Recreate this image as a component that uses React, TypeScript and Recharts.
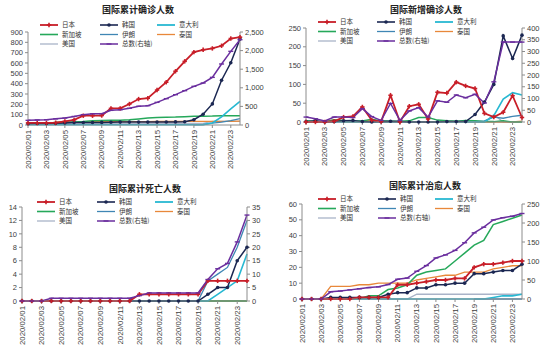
import React from "react";
import { LineChart, Line, XAxis, YAxis } from "recharts";

const dates = [
  "2020/02/01", "2020/02/02", "2020/02/03", "2020/02/04", "2020/02/05", "2020/02/06",
  "2020/02/07", "2020/02/08", "2020/02/09", "2020/02/10", "2020/02/11", "2020/02/12",
  "2020/02/13", "2020/02/14", "2020/02/15", "2020/02/16", "2020/02/17", "2020/02/18",
  "2020/02/19", "2020/02/20", "2020/02/21", "2020/02/22", "2020/02/23", "2020/02/24",
];

const N = null;

// 国际累计确诊人数
const jpConfirmed = [20, 20, 20, 22, 35, 50, 90, 90, 92, 161, 161, 203, 251, 259, 338, 414, 520, 616, 705, 728, 741, 767, 837, 850];
const krConfirmed = [12, 15, 15, 16, 19, 23, 24, 24, 25, 27, 28, 28, 28, 28, 28, 29, 30, 31, 51, 104, 204, 433, 602, 833];
const itConfirmed = [2, 2, 2, 2, 2, 2, 3, 3, 3, 3, 3, 3, 3, 3, 3, 3, 3, 3, 3, 3, 20, 79, 157, 229];
const sgConfirmed = [16, 18, 18, 24, 28, 30, 33, 40, 43, 45, 47, 50, 58, 67, 72, 75, 77, 81, 84, 85, 86, 89, 89, 89];
const irConfirmed = [N, N, N, N, N, N, N, N, N, N, N, N, N, N, N, N, N, N, 2, 5, 18, 28, 43, 61];
const thConfirmed = [19, 19, 19, 25, 25, 25, 25, 32, 32, 32, 33, 33, 33, 33, 34, 34, 35, 35, 35, 35, 35, 35, 35, 37];
const usConfirmed = [8, 8, 11, 11, 12, 12, 12, 12, 12, 12, 13, 13, 14, 15, 15, 15, 15, 15, 15, 15, 35, 35, 35, 35];
const totalConfirmed = [125, 135, 143, 165, 188, 230, 278, 300, 305, 394, 412, 448, 502, 520, 609, 708, 815, 923, 1039, 1129, 1281, 1640, 1980, 2294];

// 国际新增确诊人数
const jpNew = [0, 0, 0, 2, 13, 15, 40, 5, 1, 71, 0, 42, 47, 8, 79, 77, 106, 96, 89, 23, 13, 26, 70, 12];
const krNew = [1, 3, 0, 1, 3, 4, 1, 0, 1, 2, 1, 0, 0, 0, 0, 1, 1, 1, 20, 53, 100, 229, 169, 231];
const itNew = [0, 0, 0, 0, 0, 0, 1, 0, 0, 0, 0, 0, 0, 0, 0, 0, 0, 0, 0, 0, 17, 61, 78, 72];
const sgNew = [3, 2, 0, 6, 4, 2, 3, 7, 3, 2, 2, 3, 12, 12, 5, 3, 2, 4, 3, 1, 1, 3, 0, 0];
const irNew = [N, N, N, N, N, N, N, N, N, N, N, N, N, N, N, N, N, N, 2, 3, 13, 10, 15, 18];
const thNew = [0, 0, 0, 6, 0, 0, 0, 7, 0, 0, 1, 0, 0, 0, 1, 0, 1, 0, 0, 0, 0, 0, 0, 2];
const usNew = [0, 0, 3, 0, 1, 0, 0, 0, 0, 0, 1, 0, 1, 1, 0, 0, 0, 0, 0, 0, 20, 0, 0, 0];
const totalNew = [21, 14, 4, 21, 21, 19, 57, 23, 7, 79, 7, 47, 61, 21, 90, 84, 115, 103, 118, 81, 171, 340, 340, 340];

// 国际累计死亡人数
const jpDeaths = [0, 0, 0, 0, 0, 0, 0, 0, 0, 0, 0, 0, 1, 1, 1, 1, 1, 1, 1, 3, 3, 3, 3, 3];
const krDeaths = [0, 0, 0, 0, 0, 0, 0, 0, 0, 0, 0, 0, 0, 0, 0, 0, 0, 0, 0, 1, 2, 2, 6, 8];
const itDeaths = [0, 0, 0, 0, 0, 0, 0, 0, 0, 0, 0, 0, 0, 0, 0, 0, 0, 0, 0, 0, 1, 2, 3, 7];
const sgDeaths = [0, 0, 0, 0, 0, 0, 0, 0, 0, 0, 0, 0, 0, 0, 0, 0, 0, 0, 0, 0, 0, 0, 0, 0];
const irDeaths = [N, N, N, N, N, N, N, N, N, N, N, N, N, N, N, N, N, N, 0, 3, 4, 5, 8, 12];
const thDeaths = [0, 0, 0, 0, 0, 0, 0, 0, 0, 0, 0, 0, 0, 0, 0, 0, 0, 0, 0, 0, 0, 0, 0, 0];
const usDeaths = [0, 0, 0, 0, 0, 0, 0, 0, 0, 0, 0, 0, 0, 0, 0, 0, 0, 0, 0, 0, 0, 0, 0, 0];
const totalDeaths = [0, 0, 0, 1, 1, 1, 1, 1, 1, 1, 1, 1, 2, 3, 3, 3, 3, 3, 3, 8, 12, 14, 22, 32];

// 国际累计治愈人数
const jpCured = [0, 0, 0, 0, 0, 0, 1, 1, 1, 1, 9, 9, 10, 11, 12, 12, 13, 13, 20, 22, 22, 23, 24, 24];
const krCured = [0, 0, 0, 1, 1, 1, 1, 1, 1, 3, 4, 4, 7, 7, 9, 9, 10, 10, 16, 16, 17, 18, 18, 22];
const itCured = [0, 0, 0, 0, 0, 0, 0, 0, 0, 0, 0, 0, 0, 0, 0, 0, 0, 0, 0, 0, 1, 2, 2, 3];
const sgCured = [0, 0, 0, 0, 0, 0, 0, 2, 2, 6, 7, 9, 15, 17, 18, 19, 24, 29, 34, 37, 47, 49, 51, 53];
const irCured = [N, N, N, N, N, N, N, N, N, N, N, N, N, N, N, N, N, N, 0, 0, 0, 0, 0, 0];
const thCured = [0, 0, 0, 8, 8, 8, 9, 9, 10, 10, 10, 10, 12, 13, 14, 15, 15, 17, 17, 17, 19, 20, 21, 21];
const usCured = [0, 0, 0, 0, 0, 0, 0, 0, 0, 0, 0, 0, 3, 3, 3, 3, 3, 3, 3, 3, 3, 3, 3, 3];
const totalCured = [0, 0, 0, 19, 21, 24, 27, 30, 32, 38, 52, 55, 73, 88, 108, 116, 128, 148, 174, 189, 208, 214, 218, 225];

const COLORS = {
  jp: "#C81E28",
  kr: "#1B2752",
  it: "#27B8D2",
  sg: "#25A85A",
  ir: "#3F86B4",
  th: "#E8883A",
  us: "#A9B3C8",
  total: "#6A2E9E",
};

const FONT = "'Liberation Sans', Arial, sans-serif";
const CJK = "'Noto Sans CJK SC', sans-serif";

type Arr = (number | null)[];

function buildRows(s: Record<string, Arr>) {
  return dates.map((date, i) => {
    const row: Record<string, string | number | null> = { date };
    Object.keys(s).forEach((k) => {
      row[k] = s[k][i];
    });
    return row;
  });
}

function PlusDot(props: any) {
  const { cx, cy, index } = props;
  if (cx == null || cy == null || props.value == null) return <g key={`p${index}`} />;
  return (
    <g key={`p${index}`}>
      <line x1={cx - 2.2} y1={cy} x2={cx + 2.2} y2={cy} stroke={COLORS.jp} strokeWidth={1.6} />
      <line x1={cx} y1={cy - 2.2} x2={cx} y2={cy + 2.2} stroke={COLORS.jp} strokeWidth={1.6} />
    </g>
  );
}

function CircleDot(props: any) {
  const { cx, cy, index } = props;
  if (cx == null || cy == null || props.value == null) return <g key={`c${index}`} />;
  return <circle key={`c${index}`} cx={cx} cy={cy} r={1.8} fill={COLORS.kr} />;
}

function DashDot(props: any) {
  const { cx, cy, index } = props;
  if (cx == null || cy == null || props.value == null) return <g key={`d${index}`} />;
  return (
    <line key={`d${index}`} x1={cx - 2.5} y1={cy} x2={cx + 2.5} y2={cy} stroke={COLORS.total} strokeWidth={1.4} />
  );
}

function DateTick(props: any) {
  const { x, y, payload } = props;
  return (
    <text
      x={x}
      y={y}
      dy={2.7}
      transform={`rotate(-90 ${x} ${y})`}
      textAnchor="end"
      fontSize={7.8}
      fontFamily={FONT}
      fill="#404040"
    >
      {payload.value}
    </text>
  );
}

const legendItems: Array<{ label: string; key: keyof typeof COLORS; marker?: string; width: number }> = [
  { label: "日本", key: "jp", marker: "plus", width: 1.8 },
  { label: "韩国", key: "kr", marker: "circle", width: 1.6 },
  { label: "意大利", key: "it", width: 1.8 },
  { label: "新加坡", key: "sg", width: 1.6 },
  { label: "伊朗", key: "ir", width: 1.3 },
  { label: "泰国", key: "th", width: 1.3 },
  { label: "美国", key: "us", width: 1.3 },
  { label: "总数(右轴)", key: "total", marker: "dash", width: 1.5 },
];

function Legend({ cols, top }: { cols: number[]; top: number }) {
  const rows = [top, top + 9.5, top + 19];
  return (
    <svg width={275} height={60} style={{ position: "absolute", left: 0, top: 0, overflow: "visible" }}>
      {legendItems.map((it, i) => {
        const c = cols[i % 3];
        const r = rows[Math.floor(i / 3)];
        const col = COLORS[it.key];
        return (
          <g key={it.label}>
            <line x1={c} y1={r} x2={c + 18} y2={r} stroke={col} strokeWidth={it.width} />
            {it.marker === "plus" && (
              <g>
                <line x1={c + 6.8} y1={r} x2={c + 11.2} y2={r} stroke={col} strokeWidth={1.6} />
                <line x1={c + 9} y1={r - 2.2} x2={c + 9} y2={r + 2.2} stroke={col} strokeWidth={1.6} />
              </g>
            )}
            {it.marker === "circle" && <circle cx={c + 9} cy={r} r={1.8} fill={col} />}
            {it.marker === "dash" && (
              <line x1={c + 6.5} y1={r} x2={c + 11.5} y2={r} stroke={col} strokeWidth={1.4} />
            )}
            <text x={c + 22} y={r + 2.4} fontSize={6.5} fontFamily={CJK} fill="#333">
              {it.label}
            </text>
          </g>
        );
      })}
    </svg>
  );
}

interface PanelProps {
  title: string;
  titleX: number;
  titleY: number;
  left: number;
  top: number;
  series: Record<string, Arr>;
  leftTicks: number[];
  rightTicks: number[];
  rightFormat?: (v: number) => string;
  leftWidth: number;
  rightWidth: number;
  marginTop: number;
  marginBottom: number;
  legendCols: number[];
  legendTop: number;
}

function Panel(p: PanelProps) {
  const data = buildRows(p.series);
  const axisStyle = { fontSize: 7.5, fontFamily: FONT, fill: "#404040" };
  const lineOrder: Array<{ key: string; color: string; w: number; dot?: any }> = [
    { key: "us", color: COLORS.us, w: 1.3 },
    { key: "th", color: COLORS.th, w: 1.3 },
    { key: "ir", color: COLORS.ir, w: 1.3 },
    { key: "sg", color: COLORS.sg, w: 1.5 },
    { key: "it", color: COLORS.it, w: 1.6 },
    { key: "kr", color: COLORS.kr, w: 1.5, dot: CircleDot },
    { key: "jp", color: COLORS.jp, w: 1.8, dot: PlusDot },
  ];
  return (
    <div style={{ position: "absolute", left: p.left, top: p.top, width: 275, height: 172 }}>
      <div
        style={{
          position: "absolute",
          left: p.titleX - 60,
          width: 120,
          top: p.titleY - 7,
          textAlign: "center",
          fontFamily: CJK,
          fontWeight: 700,
          fontSize: 9,
          color: "#222",
          lineHeight: "14px",
        }}
      >
        {p.title}
      </div>
      <LineChart
        width={275}
        height={172}
        data={data}
        margin={{ top: p.marginTop, right: 0, bottom: p.marginBottom, left: 0 }}
        style={{ position: "absolute", left: 0, top: 0 }}
      >
        <XAxis
          dataKey="date"
          interval={1}
          height={45}
          tick={<DateTick />}
          tickSize={3}
          axisLine={{ stroke: "#8C8C8C" }}
          tickLine={{ stroke: "#8C8C8C" }}
        />
        <YAxis
          yAxisId="left"
          width={p.leftWidth}
          domain={[0, p.leftTicks[p.leftTicks.length - 1]]}
          ticks={p.leftTicks}
          interval={0}
          tick={axisStyle}
          tickSize={3}
          tickMargin={2}
          axisLine={{ stroke: "#8C8C8C" }}
          tickLine={{ stroke: "#8C8C8C" }}
        />
        <YAxis
          yAxisId="right"
          orientation="right"
          width={p.rightWidth}
          domain={[0, p.rightTicks[p.rightTicks.length - 1]]}
          ticks={p.rightTicks}
          interval={0}
          tick={axisStyle}
          tickSize={3}
          tickMargin={2}
          tickFormatter={p.rightFormat}
          axisLine={{ stroke: "#8C8C8C" }}
          tickLine={{ stroke: "#8C8C8C" }}
        />
        {lineOrder.map((l) => (
          <Line
            key={l.key}
            yAxisId="left"
            type="linear"
            dataKey={l.key}
            stroke={l.color}
            strokeWidth={l.w}
            dot={l.dot ? (props: any) => l.dot(props) : false}
            activeDot={false}
            isAnimationActive={false}
          />
        ))}
        <Line
          yAxisId="right"
          type="linear"
          dataKey="total"
          stroke={COLORS.total}
          strokeWidth={1.5}
          dot={(props: any) => DashDot(props)}
          activeDot={false}
          isAnimationActive={false}
        />
      </LineChart>
      <Legend cols={p.legendCols} top={p.legendTop} />
    </div>
  );
}

export default function App() {
  return (
    <div style={{ position: "absolute", left: 0, top: 0, width: 550, height: 347, background: "#fff" }}>
      <Panel
        title="国际累计确诊人数"
        titleX={138}
        titleY={10}
        left={0}
        top={0}
        series={{ jp: jpConfirmed, kr: krConfirmed, it: itConfirmed, sg: sgConfirmed, ir: irConfirmed, th: thConfirmed, us: usConfirmed, total: totalConfirmed }}
        leftTicks={[0, 100, 200, 300, 400, 500, 600, 700, 800, 900]}
        rightTicks={[0, 500, 1000, 1500, 2000, 2500]}
        rightFormat={(v: number) => v.toLocaleString("en-US")}
        leftWidth={28}
        rightWidth={35}
        marginTop={32}
        marginBottom={2}
        legendCols={[40, 100, 157]}
        legendTop={25}
      />
      <Panel
        title="国际新增确诊人数"
        titleX={151}
        titleY={9.5}
        left={275}
        top={0}
        series={{ jp: jpNew, kr: krNew, it: itNew, sg: sgNew, ir: irNew, th: thNew, us: usNew, total: totalNew }}
        leftTicks={[0, 50, 100, 150, 200, 250]}
        rightTicks={[0, 50, 100, 150, 200, 250, 300, 350, 400]}
        leftWidth={31}
        rightWidth={28}
        marginTop={28}
        marginBottom={5}
        legendCols={[43, 102, 160]}
        legendTop={22}
      />
      <Panel
        title="国际累计死亡人数"
        titleX={145}
        titleY={14}
        left={0}
        top={175}
        series={{ jp: jpDeaths, kr: krDeaths, it: itDeaths, sg: sgDeaths, ir: irDeaths, th: thDeaths, us: usDeaths, total: totalDeaths }}
        leftTicks={[0, 2, 4, 6, 8, 10, 12, 14]}
        rightTicks={[0, 5, 10, 15, 20, 25, 30, 35]}
        leftWidth={22}
        rightWidth={28}
        marginTop={32}
        marginBottom={1}
        legendCols={[37, 97, 155]}
        legendTop={27}
      />
      <Panel
        title="国际累计治愈人数"
        titleX={150}
        titleY={11}
        left={275}
        top={175}
        series={{ jp: jpCured, kr: krCured, it: itCured, sg: sgCured, ir: irCured, th: thCured, us: usCured, total: totalCured }}
        leftTicks={[0, 10, 20, 30, 40, 50, 60]}
        rightTicks={[0, 50, 100, 150, 200, 250]}
        leftWidth={27}
        rightWidth={28}
        marginTop={29}
        marginBottom={3}
        legendCols={[43, 103, 160]}
        legendTop={24}
      />
    </div>
  );
}
